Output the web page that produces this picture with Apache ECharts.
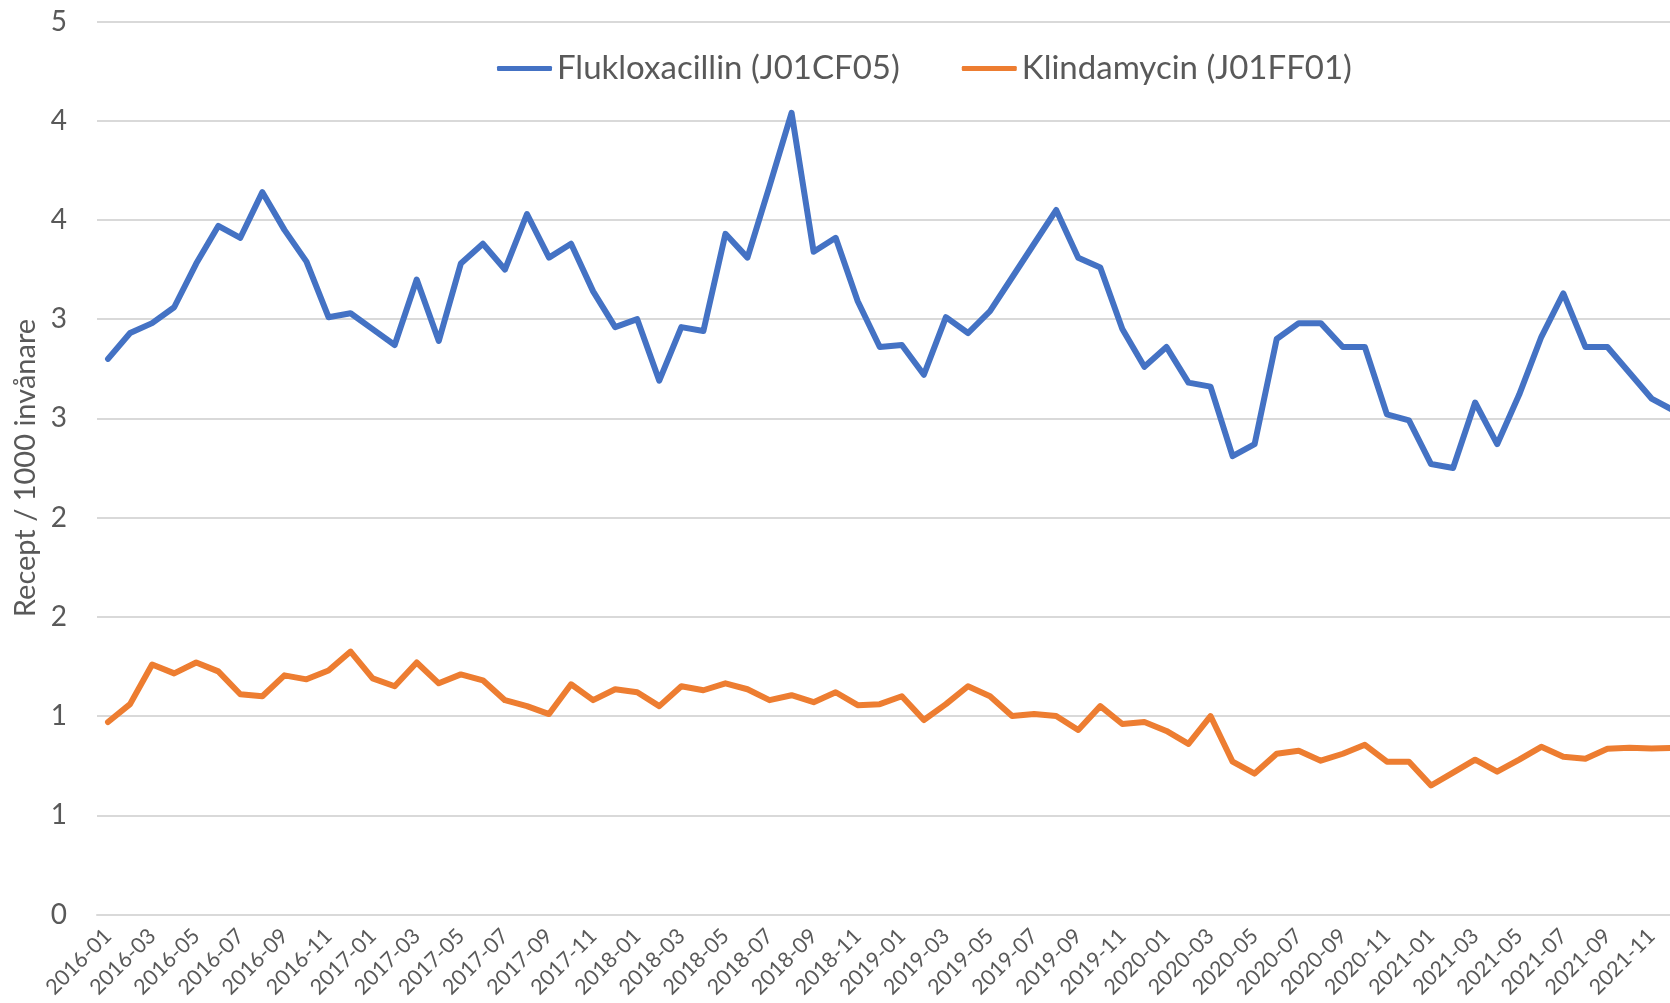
<!DOCTYPE html>
<html>
<head>
<meta charset="utf-8">
<script src="https://cdn.jsdelivr.net/npm/echarts@6/dist/echarts.min.js"></script>
<style>
  html, body { margin: 0; padding: 0; background: #fff; }
  #main { width: 1670px; height: 1003px; }
</style>
</head>
<body>
<div id="main"></div>
<script>
// månader
var months = [
  '2016-01','2016-02','2016-03','2016-04','2016-05','2016-06','2016-07','2016-08','2016-09','2016-10','2016-11','2016-12',
  '2017-01','2017-02','2017-03','2017-04','2017-05','2017-06','2017-07','2017-08','2017-09','2017-10','2017-11','2017-12',
  '2018-01','2018-02','2018-03','2018-04','2018-05','2018-06','2018-07','2018-08','2018-09','2018-10','2018-11','2018-12',
  '2019-01','2019-02','2019-03','2019-04','2019-05','2019-06','2019-07','2019-08','2019-09','2019-10','2019-11','2019-12',
  '2020-01','2020-02','2020-03','2020-04','2020-05','2020-06','2020-07','2020-08','2020-09','2020-10','2020-11','2020-12',
  '2021-01','2021-02','2021-03','2021-04','2021-05','2021-06','2021-07','2021-08','2021-09','2021-10','2021-11','2021-12'
];

// Flukloxacillin (J01CF05)
var flukloxacillin = [
  2.80, 2.93, 2.98, 3.06, 3.28, 3.47, 3.41, 3.64, 3.45, 3.29, 3.01, 3.03,
  2.95, 2.87, 3.20, 2.89, 3.28, 3.38, 3.25, 3.53, 3.31, 3.38, 3.14, 2.96,
  3.00, 2.69, 2.96, 2.94, 3.43, 3.31, 3.67, 4.04, 3.34, 3.41, 3.09, 2.86,
  2.87, 2.72, 3.01, 2.93, 3.04, 3.21, 3.38, 3.55, 3.31, 3.26, 2.95, 2.76,
  2.86, 2.68, 2.66, 2.31, 2.37, 2.90, 2.98, 2.98, 2.86, 2.86, 2.52, 2.49,
  2.27, 2.25, 2.58, 2.37, 2.62, 2.91, 3.13, 2.86, 2.86, 2.73, 2.60, 2.54
];

// Klindamycin (J01FF01)
var klindamycin = [
  0.97, 1.06, 1.26, 1.215, 1.27, 1.225, 1.11, 1.10, 1.205, 1.185, 1.23, 1.325,
  1.19, 1.15, 1.27, 1.165, 1.21, 1.18, 1.08, 1.05, 1.01, 1.16, 1.08, 1.135,
  1.12, 1.05, 1.15, 1.13, 1.165, 1.135, 1.08, 1.105, 1.07, 1.12, 1.055, 1.06,
  1.10, 0.98, 1.06, 1.15, 1.10, 1.00, 1.01, 1.00, 0.93, 1.05, 0.96, 0.97,
  0.925, 0.86, 1.00, 0.77, 0.71, 0.81, 0.825, 0.775, 0.81, 0.855, 0.77, 0.77,
  0.65, 0.715, 0.78, 0.72, 0.78, 0.845, 0.795, 0.785, 0.835, 0.84, 0.837, 0.84
];

var seriesNames = ['Flukloxacillin (J01CF05)', 'Klindamycin (J01FF01)'];
var seriesColors = ['#4472C4', '#ED7D31'];

var FONT = 'Lato, "Open Sans", sans-serif';
var chart = echarts.init(document.getElementById('main'), null, { renderer: 'canvas' });

chart.setOption({
  animation: false,
  backgroundColor: '#ffffff',
  color: seriesColors,
  grid: {
    left: 97,
    top: 21.5,
    width: 1587.6,
    height: 893,
    outerBoundsMode: 'none'
  },
  legend: {
    left: 492,
    top: 47,
    itemWidth: 55,
    itemHeight: 5,
    itemGap: 62,
    icon: 'roundRect',
    textStyle: { color: '#595959', fontSize: 33, fontFamily: FONT },
    data: seriesNames
  },
  xAxis: {
    type: 'category',
    data: months,
    boundaryGap: true,
    axisTick: { show: false },
    axisLine: { lineStyle: { color: '#d9d9d9', width: 2 } },
    axisLabel: {
      interval: 1,
      rotate: 45,
      margin: 18,
      color: '#595959',
      fontSize: 21.5,
      fontFamily: FONT
    }
  },
  yAxis: {
    type: 'value',
    min: 0,
    max: 4.5,
    interval: 0.5,
    name: 'Recept / 1000 invånare',
    nameLocation: 'middle',
    nameGap: 57,
    nameTextStyle: { color: '#595959', fontSize: 29, fontFamily: FONT },
    axisLine: { show: false },
    axisTick: { show: false },
    splitLine: { lineStyle: { color: '#d9d9d9', width: 2 } },
    axisLabel: {
      margin: 30,
      color: '#595959',
      fontSize: 28,
      fontFamily: FONT,
      formatter: function (v) { return String(Math.round(v)); }
    }
  },
  series: [
    {
      name: seriesNames[0],
      type: 'line',
      data: flukloxacillin,
      symbol: 'none',
      lineStyle: { width: 6, cap: 'round', join: 'round' }
    },
    {
      name: seriesNames[1],
      type: 'line',
      data: klindamycin,
      symbol: 'none',
      lineStyle: { width: 6, cap: 'round', join: 'round' }
    }
  ]
});
</script>
</body>
</html>
